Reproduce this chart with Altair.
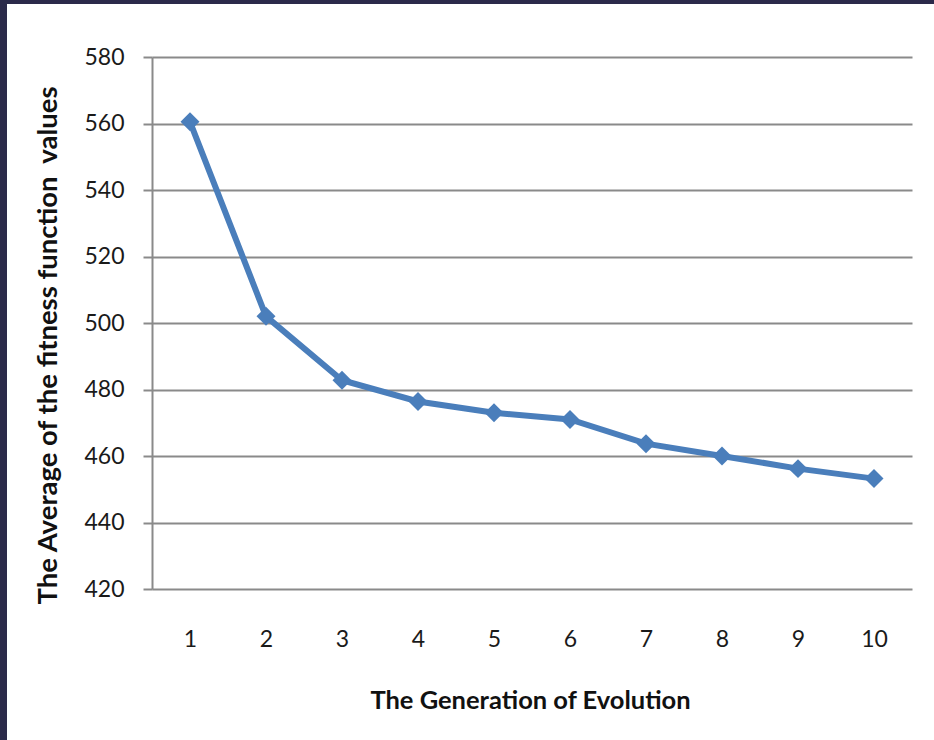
import altair as alt
import pandas as pd

# Data
generations = [1, 2, 3, 4, 5, 6, 7, 8, 9, 10]
avg_fitness = [560.5, 502.0, 482.8, 476.4, 473.0, 471.0, 463.7, 460.0, 456.2, 453.2]
y_ticks = [420, 440, 460, 480, 500, 520, 540, 560, 580]

df = pd.DataFrame({"Generation": generations, "Average": avg_fitness})

FONT = "Lato"
BLUE = "#4A7EBB"
GRID = "#8a8a8a"
DARK = "#2b2a4a"

x_enc = alt.X(
    "Generation:O",
    axis=alt.Axis(
        title="The Generation of Evolution",
        labelAngle=0,
        ticks=False,
        domain=False,
        grid=False,
        labelFont=FONT,
        labelFontSize=23,
        labelColor="#1a1a1a",
        labelBaseline="middle",
        labelPadding=50,
        titleFont=FONT,
        titleFontSize=25.5,
        titleFontWeight="bold",
        titleColor="#111111",
        titleX=378,
        titleY=111,
        titleAlign="center",
        titleBaseline="middle",
    ),
)

y_enc = alt.Y(
    "Average:Q",
    scale=alt.Scale(domain=[420, 580], nice=False, zero=False),
    axis=alt.Axis(
        title="The Average of the fitness function\u00a0 values",
        values=y_ticks,
        grid=True,
        gridColor=GRID,
        gridWidth=2,
        domainColor=GRID,
        domainWidth=2,
        tickColor=GRID,
        tickWidth=2,
        tickSize=9,
        labelFont=FONT,
        labelFontSize=23,
        labelColor="#1a1a1a",
        labelPadding=19,
        titleFont=FONT,
        titleFontSize=27.5,
        titleFontWeight="bold",
        titleColor="#111111",
        titleAngle=-90,
        titleX=-104,
        titleY=288,
        titleAlign="center",
        titleBaseline="middle",
    ),
)

base = alt.Chart(df)
line = base.mark_line(color=BLUE, strokeWidth=6).encode(x=x_enc, y=y_enc)
points = base.mark_point(shape="diamond", filled=True, size=360, color=BLUE, opacity=1).encode(
    x="Generation:O", y="Average:Q"
)

frame_df = pd.DataFrame({"k": [0]})
left_strip = alt.Chart(frame_df).mark_rect(color=DARK, clip=False).encode(
    x=alt.value(-152), x2=alt.value(-145), y=alt.value(-57), y2=alt.value(683)
)
top_strip = alt.Chart(frame_df).mark_rect(color=DARK, clip=False).encode(
    x=alt.value(-152), x2=alt.value(782), y=alt.value(-57), y2=alt.value(-53)
)

chart = (
    alt.layer(line, points, left_strip, top_strip)
    .properties(
        width=760,
        height=532,
        autosize=alt.AutoSizeParams(type="none"),
        padding={"left": 152, "top": 57, "right": 22, "bottom": 151},
        background="white",
    )
    .configure_view(stroke=None)
)

chart.save("out.html", embed_options={"renderer": "svg", "actions": False})
